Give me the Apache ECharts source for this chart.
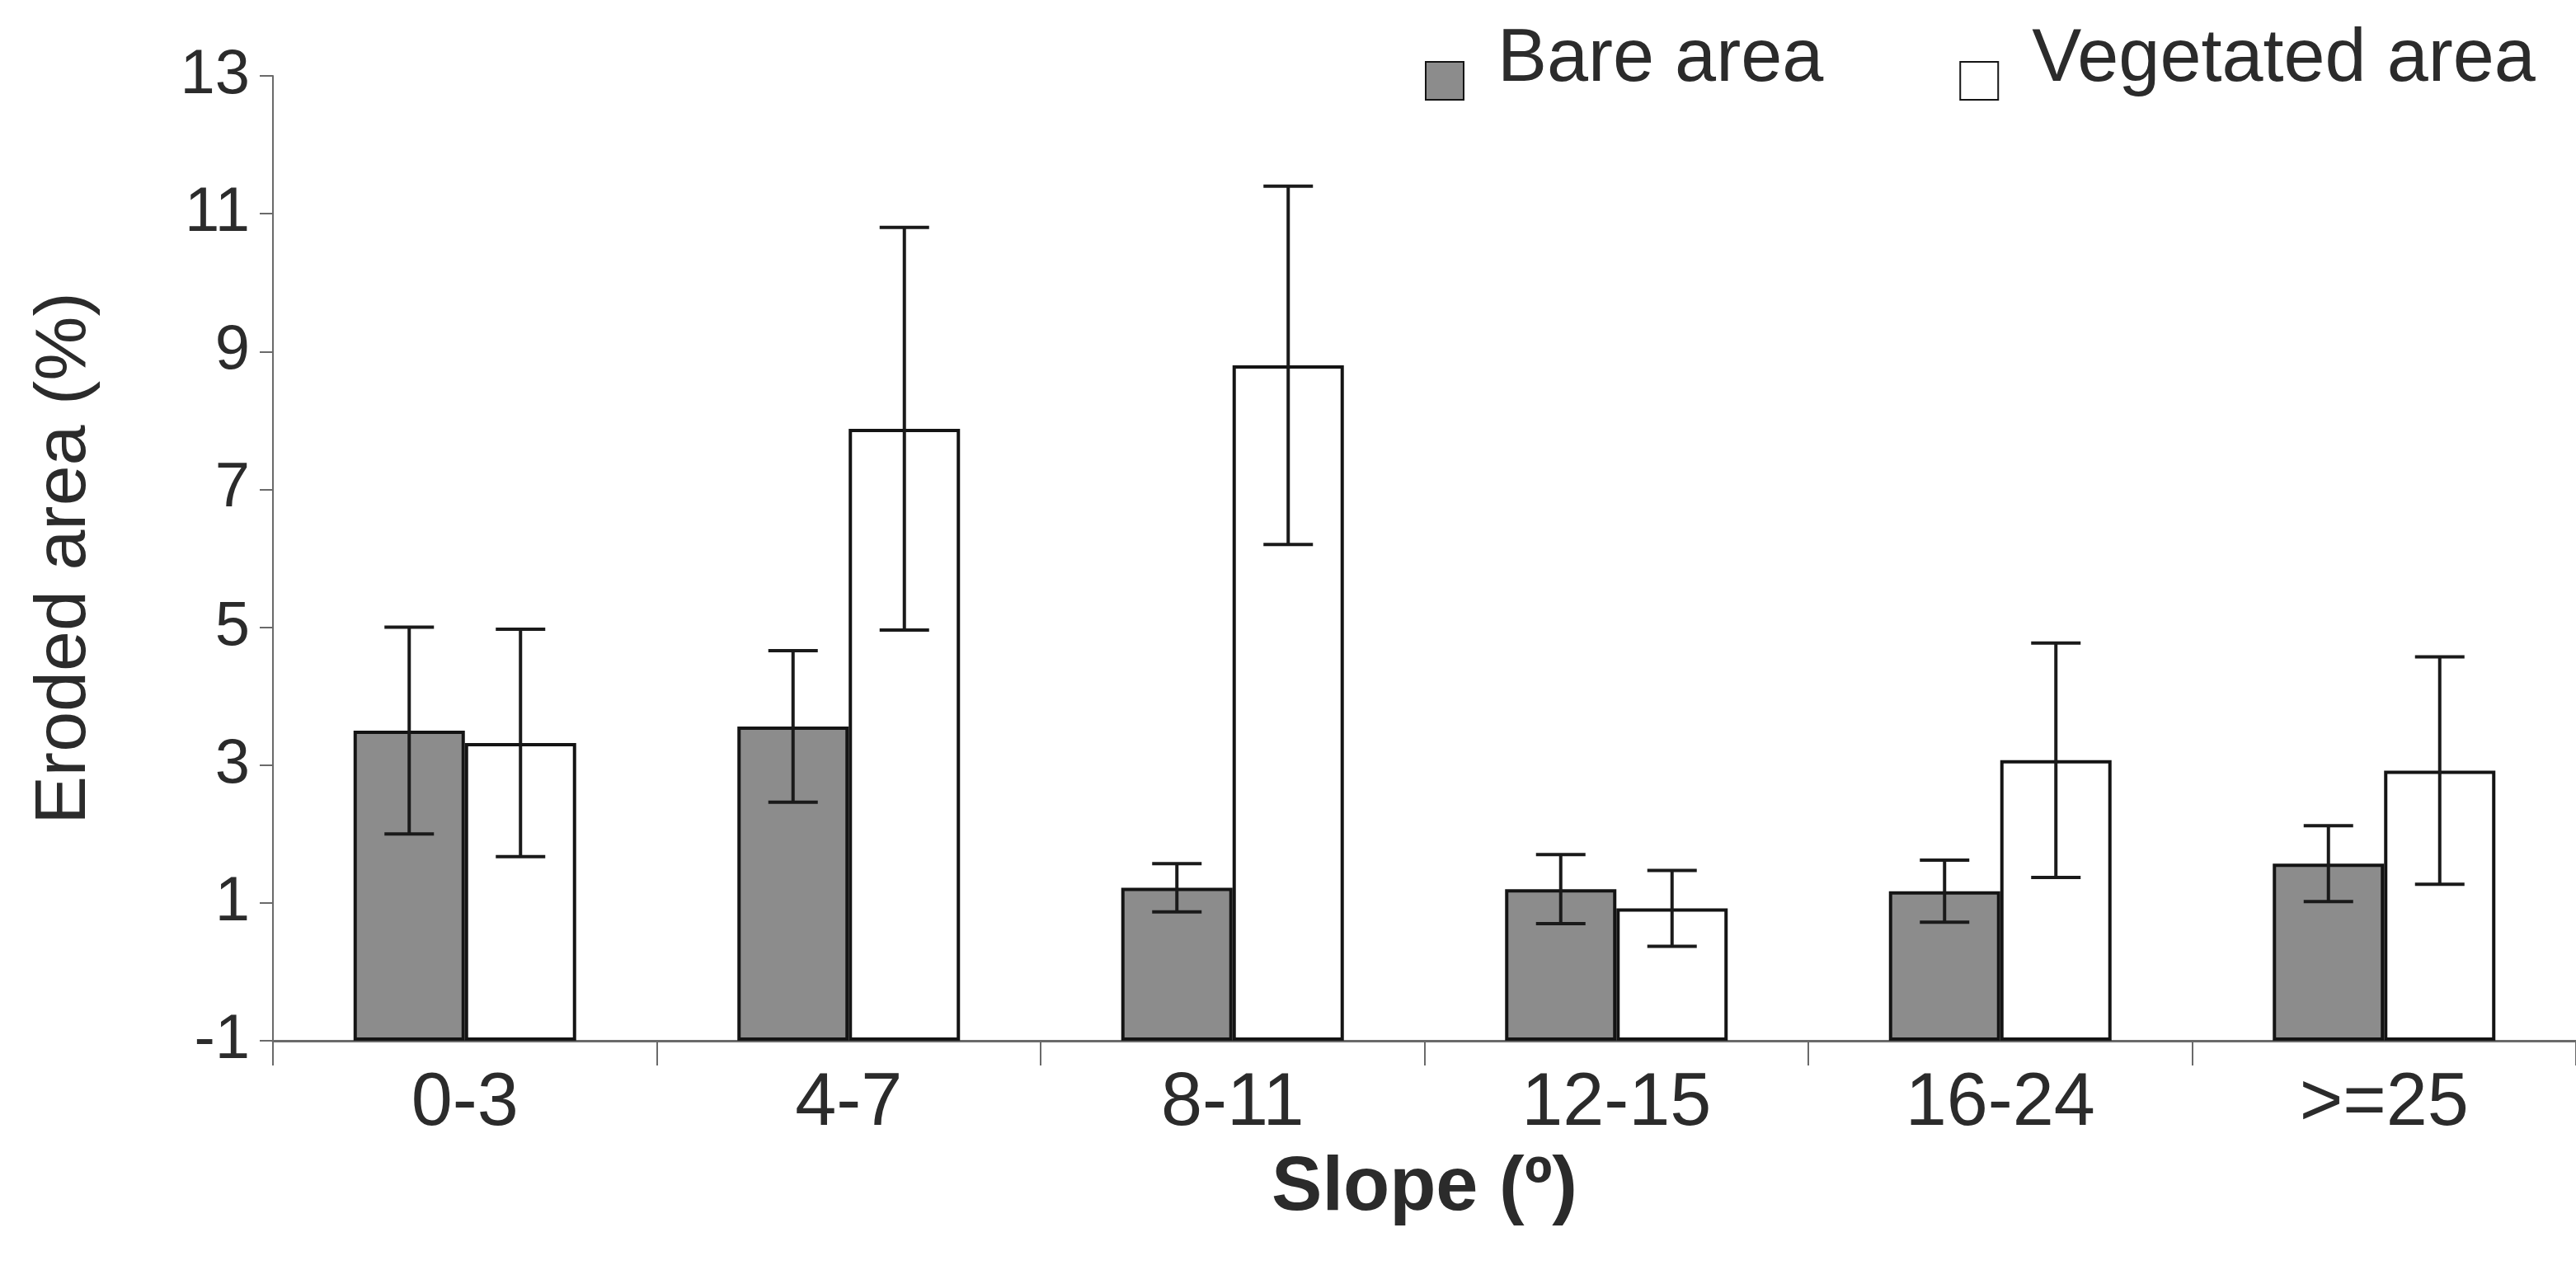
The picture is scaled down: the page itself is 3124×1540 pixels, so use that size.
<!DOCTYPE html>
<html>
<head>
<meta charset="utf-8">
<script src="https://cdn.jsdelivr.net/npm/echarts@6/dist/echarts.min.js"></script>
<style>
  html, body { margin: 0; padding: 0; background: #fff; }
  #chart { width: 3124px; height: 1540px; }
</style>
</head>
<body>
<div id="chart"></div>
<script>
const slopeClasses = ['0-3', '4-7', '8-11', '12-15', '16-24', '>=25']
const bareMean = [3.5, 3.56, 1.22, 1.2, 1.17, 1.57]
const bareErr = [1.5, 1.1, 0.35, 0.5, 0.45, 0.55]
const vegMean = [3.32, 7.88, 8.8, 0.92, 3.07, 2.92]
const vegErr = [1.65, 2.92, 2.6, 0.55, 1.7, 1.65]
const yTicks = [-1, 1, 3, 5, 7, 9, 11, 13]

const FONT = '"Liberation Sans", Arial, sans-serif'
const TEXT = '#2b2b2b'
const CAT_GAP = 0.42

const chart = echarts.init(document.getElementById('chart'))

// error bars drawn on top of each bar, positioned from the category band width
function errorSeries(name, means, errs, side) {
  return {
    name: name + ' error',
    type: 'custom',
    z: 5,
    data: means.map((m, i) => [i, m, errs[i]]),
    encode: { x: 0, y: 1 },
    renderItem(params, api) {
      const i = api.value(0)
      const m = api.value(1)
      const e = api.value(2)
      const band = api.size([1, 0])[0]
      const barW = band * (1 - CAT_GAP) / 2
      const hi = api.coord([i, m + e])
      const lo = api.coord([i, m - e])
      const x = hi[0] + side * barW / 2
      const cap = 30
      const style = { stroke: '#1a1a1a', lineWidth: 4 }
      return {
        type: 'group',
        children: [
          { type: 'line', shape: { x1: x, y1: hi[1], x2: x, y2: lo[1] }, style },
          { type: 'line', shape: { x1: x - cap, y1: hi[1], x2: x + cap, y2: hi[1] }, style },
          { type: 'line', shape: { x1: x - cap, y1: lo[1], x2: x + cap, y2: lo[1] }, style },
        ],
      }
    },
  }
}

chart.setOption({
  backgroundColor: '#fff',
  animation: false,
  textStyle: { fontFamily: FONT, color: TEXT },
  grid: { left: 331, top: 92, width: 2826, height: 1170, containLabel: false },
  legend: {
    data: ['Bare area', 'Vegetated area'],
    left: 1728,
    top: 28,
    padding: 0,
    icon: 'rect',
    itemWidth: 46,
    itemHeight: 46,
    itemGap: 165,
    formatter: '{t|{name}}',
    textStyle: {
      color: TEXT,
      fontFamily: FONT,
      rich: { t: { fontSize: 90, color: TEXT, fontFamily: FONT, padding: [0, 0, 50, 36] } },
    },
  },
  xAxis: {
    type: 'category',
    data: slopeClasses,
    name: 'Slope (º)',
    nameLocation: 'middle',
    nameGap: 134,
    nameTextStyle: { fontSize: 92, fontWeight: 'bold', color: TEXT, fontFamily: FONT },
    axisLine: { onZero: false, lineStyle: { color: '#6a6a6a', width: 3 } },
    axisTick: { show: true, length: 30, lineStyle: { color: '#6a6a6a', width: 2 } },
    axisLabel: { fontSize: 90, color: TEXT, margin: 32, fontFamily: FONT },
    splitLine: { show: false },
  },
  yAxis: {
    type: 'value',
    min: yTicks[0],
    max: yTicks[yTicks.length - 1],
    startValue: yTicks[0],
    interval: 2,
    name: 'Eroded area (%)',
    nameLocation: 'middle',
    nameRotate: 90,
    nameGap: 208,
    nameTextStyle: { fontSize: 88, color: TEXT, fontFamily: FONT },
    axisLine: { show: true, lineStyle: { color: '#6a6a6a', width: 2 } },
    axisTick: { show: true, length: 16, lineStyle: { color: '#6a6a6a', width: 2 } },
    axisLabel: { fontSize: 76, color: TEXT, margin: 28, fontFamily: FONT },
    splitLine: { show: false },
  },
  series: [
    {
      name: 'Bare area',
      type: 'bar',
      data: bareMean,
      barGap: '0%',
      barCategoryGap: CAT_GAP * 100 + '%',
      itemStyle: { color: '#8c8c8c', borderColor: '#141414', borderWidth: 4 },
    },
    {
      name: 'Vegetated area',
      type: 'bar',
      data: vegMean,
      barGap: '0%',
      barCategoryGap: CAT_GAP * 100 + '%',
      itemStyle: { color: '#ffffff', borderColor: '#141414', borderWidth: 4 },
    },
    errorSeries('Bare area', bareMean, bareErr, -1),
    errorSeries('Vegetated area', vegMean, vegErr, 1),
  ],
})
</script>
</body>
</html>
